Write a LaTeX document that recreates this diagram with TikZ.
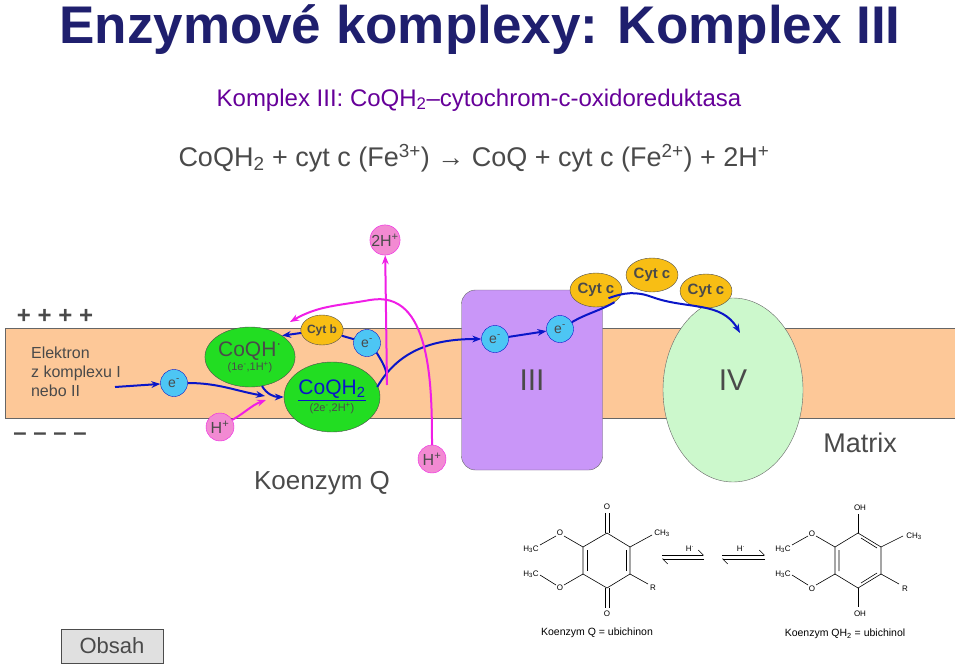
\documentclass[tikz,border=0pt]{standalone}
\usepackage{fontspec}
\setmainfont{Liberation Sans}
\usetikzlibrary{positioning,arrows.meta,shapes.geometric}
\definecolor{navy}{HTML}{1F1F6E}
\definecolor{membr}{HTML}{FDC898}
\definecolor{ebl}{HTML}{0A16C8}
\definecolor{pinkh}{HTML}{F28AD2}
\definecolor{magh}{HTML}{F01EE6}
\definecolor{cytor}{HTML}{F8BE14}
\definecolor{qgreen}{HTML}{22DD22}
\definecolor{lila}{HTML}{C996F8}
\definecolor{ivgreen}{HTML}{CCF8CC}
\definecolor{txt}{HTML}{4A4A4A}
\newcommand{\hor}[1]{\textsuperscript{#1}}
\newcommand{\dol}[1]{\textsubscript{#1}}
\begin{document}
\begin{tikzpicture}[
  x=1pt,
  y=-1pt,
  elec/.style={circle, draw=ebl, fill=cyan!70, text=txt, inner sep=0pt, minimum size=27pt, font=\fontsize{14}{14}\selectfont},
  proton/.style={circle, draw=magh, fill=pinkh, text=txt, inner sep=0pt, minimum size=28pt, font=\fontsize{16}{16}\selectfont},
  cytc/.style={ellipse, draw=black!70, fill=cytor, text=txt, inner sep=0pt, minimum width=52pt, minimum height=34pt, font=\bfseries\fontsize{15}{15}\selectfont},
  qbox/.style={ellipse, draw=black!70, fill=qgreen, text=txt, align=center, inner sep=0pt},
  earr/.style={-{Stealth[length=9pt]}, ebl, line width=2pt},
  parr/.style={-{Stealth[length=9pt]}, magh, line width=2pt},
  bond/.style={line width=0.6pt},
  chem/.style={font=\fontsize{8}{8}\selectfont, inner sep=0.5pt}
]
\useasboundingbox (0,0) rectangle (960,666);

% nadpisy
\node[text=navy, font=\bfseries\fontsize{53}{53}\selectfont] (title) at (480,30) {Enzymové komplexy: Komplex III};
\node[text=violet!80!blue, font=\fontsize{24}{24}\selectfont] (sub) at (479,100) {Komplex III: CoQH\dol{2}–cytochrom-c-oxidoreduktasa};
\node[text=txt, font=\fontsize{27}{27}\selectfont] (eq) at (474,158) {CoQH\dol{2} + cyt c (Fe\hor{3+}) → CoQ + cyt c (Fe\hor{2+}) + 2H\hor{+}};

% membrana
\fill[membr] (5,328) rectangle (955,418);
\draw[black!60] (5,328) -- (955,328) (5,418) -- (955,418) (5,328) -- (5,418);
\node[text=txt, font=\bfseries\fontsize{24}{24}\selectfont] (plus) at (55,316) {+ + + +};
\node[text=txt, font=\bfseries\fontsize{24}{24}\selectfont] (minus) at (50,437) {-- -- -- --};
\node[text=txt, align=left, font=\fontsize{16}{19}\selectfont] (zdroj) at (76,372) {Elektron\\z komplexu I\\nebo II};
\coordinate (zdrojE) at (115,387);

% komplexy III a IV
\node[draw=black!60, fill=lila, rounded corners=14pt, minimum width=141pt, minimum height=180pt] (III) at (532,380) {};
\node[text=txt, font=\fontsize{30}{30}\selectfont] at (532,380) {III};
\node[ellipse, draw=black!60, fill=ivgreen, minimum width=140pt, minimum height=184pt] (IV) at (733,390) {};
\node[text=txt, font=\fontsize{30}{30}\selectfont] at (733,380) {IV};
\node[text=txt, font=\fontsize{27}{27}\selectfont] (matrix) at (860,443) {Matrix};

% koenzym Q
\node[qbox, minimum width=80pt, minimum height=60pt] (coqh) at (250,357) {\fontsize{21}{21}\selectfont CoQH\hor{·}\\[1pt]\fontsize{11}{11}\selectfont (1e\hor{-},1H\hor{+})};
\node[qbox, minimum width=96pt, minimum height=70pt] (coqh2) at (332,397) {\fontsize{21}{21}\selectfont\textcolor{ebl}{\underline{CoQH\dol{2}}}\\[2pt]\fontsize{11}{11}\selectfont (2e\hor{-},2H\hor{+})};
\node[ellipse, draw=black!70, fill=cytor, text=txt, inner sep=0pt, minimum width=40pt, minimum height=30pt, font=\bfseries\fontsize{12}{12}\selectfont] (cytb) at (322,330) {Cyt b};
\node[text=txt, font=\fontsize{26}{26}\selectfont] (kq) at (322,483) {Koenzym Q};

% elektrony a protony
\node[elec] (e1) at (174,383) {e\hor{-}};
\node[elec] (e2) at (367,343) {e\hor{-}};
\node[elec] (e3) at (495,339) {e\hor{-}};
\node[elec] (e4) at (560,329) {e\hor{-}};
\node[proton] (h1) at (220,427) {H\hor{+}};
\node[proton] (h2) at (432,459) {H\hor{+}};
\node[proton] (h3) at (385,240) {2H\hor{+}};

\node[cytc] (c1) at (596,290) {Cyt c};
\node[cytc] (c2) at (652,275) {Cyt c};
\node[cytc] (c3) at (706,291) {Cyt c};

% toky elektronu
\draw[earr] (zdrojE) -- (e1);
\draw[earr] (e1) to[out=0, in=170] (265,396);
\draw[earr] (262,386) to[out=-60, in=180] (coqh2.west);
\draw[earr] (coqh2.east) ++(-3,-10) to[out=60, in=180] (e3);
\draw[ebl, line width=2pt] (e2.south east) to[out=-60, in=90] (387,380);
\draw[ebl, line width=2pt] (e2) -- (cytb);
\draw[earr] (cytb) -- (coqh.north east);
\draw[earr] (e3) -- (e4);
\draw[ebl, line width=2pt] (e4) to[out=30, in=-150] (c1.south east);
\draw[earr] (c1.south east) ++(-6,-4) to[out=20, in=160] (652,297) to[out=-20, in=120] (740,333);

% toky protonu
\draw[parr] (h1) to[out=30, in=200] (266,400);
\draw[parr] (387,385) -- (h3);
\draw[parr] (h2) to[out=90, in=10] (370,300) to[out=190, in=30] (290,322);

% struktury
\begin{scope}[bond]
% ubichinon
\draw (607,533) -- (630,547) -- (630,574) -- (607,588) -- (583,574) -- (583,547) -- cycle;
\draw (587,550) -- (587,571) (626,550) -- (626,571);
\draw (605,533) -- (605,513) (609,533) -- (609,513);
\draw (605,588) -- (605,608) (609,588) -- (609,608);
\draw (630,547) -- (652,535) (630,574) -- (648,584);
\draw (583,547) -- (564,536) (583,574) -- (564,585);
\draw (556,536) -- (540,545) (556,585) -- (540,575);
% ubichinol
\draw (858,533) -- (881,547) -- (881,574) -- (858,588) -- (835,574) -- (835,547) -- cycle;
\draw (839,550) -- (839,571) (861,538) -- (877,548) (877,573) -- (861,583);
\draw (858,533) -- (858,514) (858,588) -- (858,607);
\draw (881,547) -- (903,536) (881,574) -- (899,584);
\draw (835,547) -- (816,536) (835,574) -- (816,585);
\draw (808,536) -- (792,545) (808,585) -- (792,575);
% rovnovaha
\draw[-{Straight Barb[left,length=5pt]}] (662,555) -- (704,555);
\draw[-{Straight Barb[left,length=5pt]}] (704,559) -- (662,559);
\draw[-{Straight Barb[left,length=5pt]}] (722,555) -- (765,555);
\draw[-{Straight Barb[left,length=5pt]}] (765,559) -- (722,559);
\end{scope}
\node[chem] (o1) at (607,507) {O};
\node[chem] (o2) at (607,614) {O};
\node[chem] (o3) at (560,533) {O};
\node[chem] (o4) at (560,588) {O};
\node[chem] (m1) at (531,549) {H\dol{3}C};
\node[chem] (m2) at (531,574) {H\dol{3}C};
\node[chem] (m3) at (662,533) {CH\dol{3}};
\node[chem] (r1) at (653,588) {R};
\node[chem] (oh1) at (860,508) {OH};
\node[chem] (oh2) at (860,614) {OH};
\node[chem] (o5) at (812,534) {O};
\node[chem] (o6) at (812,589) {O};
\node[chem] (m4) at (783,549) {H\dol{3}C};
\node[chem] (m5) at (783,574) {H\dol{3}C};
\node[chem] (m6) at (914,536) {CH\dol{3}};
\node[chem] (r2) at (905,589) {R};
\node[chem] (hd1) at (690,549) {H\hor{·}};
\node[chem] (hd2) at (741,549) {H\hor{·}};
\node[font=\fontsize{10.5}{11}\selectfont] (cap1) at (597,633) {Koenzym Q = ubichinon};
\node[font=\fontsize{10.5}{11}\selectfont] (cap2) at (845,634) {Koenzym QH\dol{2} = ubichinol};

% tlacitko
\node[draw=black!70, fill=black!12, text=txt, minimum width=102pt, minimum height=34pt, font=\fontsize{22}{22}\selectfont] (obsah) at (112,646) {Obsah};
\end{tikzpicture}
\end{document}
